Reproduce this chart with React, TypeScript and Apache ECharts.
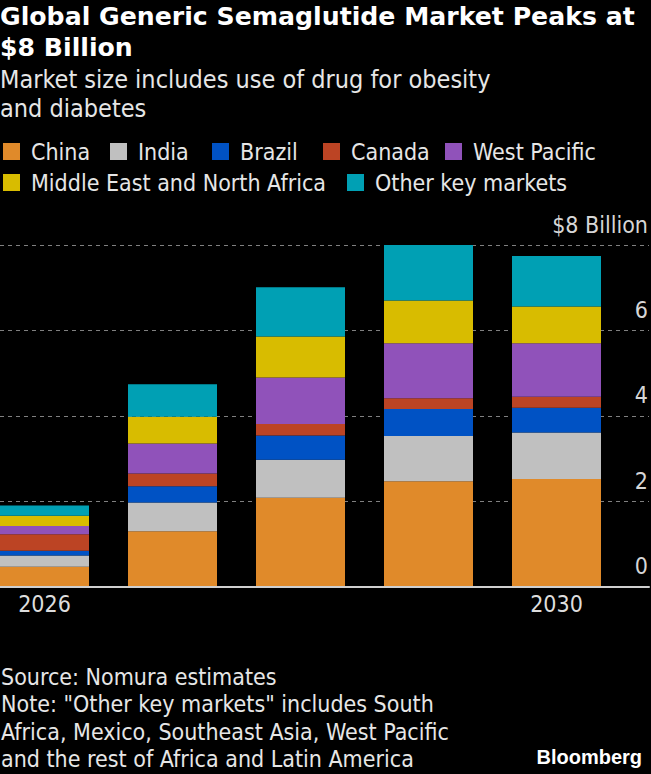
import React, { useEffect, useRef } from "react";
import * as echarts from "echarts";

const FONT = '"DejaVu Sans Condensed", "Liberation Sans Narrow", "DejaVu Sans", sans-serif';
const TITLE_FONT = '"DejaVu Sans", "Noto Sans", sans-serif';
const LOGO_FONT = '"Liberation Sans", Arial, sans-serif';

// Market size, $ billion, by region
const years = ["2026", "2027", "2028", "2029", "2030"];
const china = [0.47, 1.3, 2.08, 2.47, 2.52];
const india = [0.26, 0.67, 0.89, 1.06, 1.09];
const brazil = [0.11, 0.38, 0.57, 0.63, 0.58];
const canada = [0.39, 0.3, 0.27, 0.25, 0.26];
const westPacific = [0.19, 0.7, 1.09, 1.29, 1.25];
const mena = [0.24, 0.63, 0.96, 1.0, 0.86];
const otherMarkets = [0.24, 0.76, 1.15, 1.3, 1.18];

const seriesNames = [
  "China",
  "India",
  "Brazil",
  "Canada",
  "West Pacific",
  "Middle East and North Africa",
  "Other key markets",
];
const seriesValues = [china, india, brazil, canada, westPacific, mena, otherMarkets];
const seriesColors = ["#E08A2A", "#C0C0C0", "#0052C4", "#BC4424", "#9052BA", "#D8BC00", "#00A0B4"];

const yTicks = [0, 2, 4, 6, 8];
const shownYears = ["2026", "2030"];

const footerLines = [
  "Source: Nomura estimates",
  'Note: "Other key markets" includes South',
  "Africa, Mexico, Southeast Asia, West Pacific",
  "and the rest of Africa and Latin America",
];

// legend item anchor points (left, top)
const legendSpots = [
  [3, 140],
  [110, 140],
  [212, 140],
  [323, 140],
  [445, 140],
  [3, 171],
  [347, 171],
];

export default function App() {
  const ref = useRef<HTMLDivElement>(null);

  useEffect(() => {
    if (!ref.current) return;
    const chart = echarts.init(ref.current, null, { renderer: "svg" });

    const gridTop = 245;
    const gridBottom = 774 - 586.7;

    chart.setOption({
      animation: false,
      backgroundColor: "#000000",
      title: {
        text: "Global Generic Semaglutide Market Peaks at\n$8 Billion",
        subtext: "Market size includes use of drug for obesity\nand diabetes",
        left: 0,
        top: 1,
        padding: 0,
        itemGap: 2,
        textStyle: {
          color: "#ffffff",
          fontFamily: TITLE_FONT,
          fontWeight: "bold",
          fontSize: 25.2,
          lineHeight: 31,
        },
        subtextStyle: {
          color: "#e6e6e6",
          fontFamily: FONT,
          fontSize: 25,
          lineHeight: 29,
        },
      },
      legend: seriesNames.map((name, i) => ({
        data: [name],
        left: legendSpots[i][0],
        top: legendSpots[i][1],
        padding: 0,
        icon: "rect",
        itemWidth: 17,
        itemHeight: 17,
        selectedMode: false,
        textStyle: {
          color: "#e6e6e6",
          fontFamily: FONT,
          fontSize: 23,
          padding: [0, 0, 0, 6],
        },
      })),
      grid: [
        // category grid: first and last year sit on its edges
        { left: 44.5, width: 512, top: gridTop, bottom: gridBottom },
        // full-width grid carrying the value scale, gridlines and baseline
        { left: 0, right: 0, top: gridTop, bottom: gridBottom },
      ],
      xAxis: [
        {
          type: "category",
          gridIndex: 0,
          data: years,
          boundaryGap: false,
          axisLine: { show: false },
          axisTick: { show: false },
          splitLine: { show: false },
          axisLabel: {
            interval: 0,
            formatter: (v: string) => (shownYears.includes(v) ? v : ""),
            color: "#dddddd",
            fontFamily: FONT,
            fontSize: 23,
            margin: 6,
          },
        },
        {
          type: "value",
          gridIndex: 1,
          min: 0,
          max: 1,
          z: 5,
          axisLine: { show: true, lineStyle: { color: "#cfcfcf", width: 2 } },
          axisTick: { show: false },
          axisLabel: { show: false },
          splitLine: { show: false },
        },
      ],
      yAxis: [
        { type: "value", gridIndex: 0, min: 0, max: 8, show: false },
        {
          type: "value",
          gridIndex: 1,
          position: "right",
          min: 0,
          max: 8,
          interval: 2,
          axisLine: { show: false },
          axisTick: { show: false },
          splitLine: {
            show: true,
            lineStyle: { color: "#808080", type: [4, 4], width: 1 },
          },
          axisLabel: {
            inside: true,
            margin: 1,
            color: "#d6d6d6",
            fontFamily: FONT,
            fontSize: 23,
            verticalAlign: "bottom",
            padding: [0, 0, 9, 0],
            customValues: yTicks,
            formatter: (v: number) => (v === 8 ? "$8 Billion" : String(v)),
          },
        },
      ],
      series: seriesNames.map((name, i) => ({
        name,
        type: "bar",
        stack: "total",
        xAxisIndex: 0,
        yAxisIndex: 0,
        barWidth: 89,
        clip: false,
        itemStyle: { color: seriesColors[i] },
        data: seriesValues[i],
      })),
      graphic: [
        ...footerLines.map((line, i) => ({
          type: "text",
          left: 1,
          top: 665.5 + i * 27.4,
          style: {
            text: line,
            fill: "#e6e6e6",
            font: `23px ${FONT}`,
          },
        })),
        {
          type: "text",
          right: 9,
          top: 747,
          style: {
            text: "Bloomberg",
            fill: "#ffffff",
            font: `bold 20px ${LOGO_FONT}`,
          },
        },
      ],
    });

    return () => chart.dispose();
  }, []);

  return (
    <div
      ref={ref}
      style={{ position: "absolute", left: 0, top: 0, width: 651, height: 774 }}
    />
  );
}
